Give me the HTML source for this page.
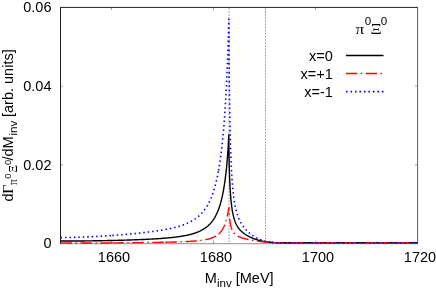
<!DOCTYPE html>
<html><head><meta charset="utf-8"><style>
html,body{margin:0;padding:0;background:#fff;}
body{width:436px;height:293px;overflow:hidden;}
svg{display:block;will-change:transform;}
text{font-family:"Liberation Sans",sans-serif;font-size:14.5px;fill:#000;}
.sy{font-family:"Liberation Serif",serif;}
</style></head><body>
<svg width="436" height="293" viewBox="0 0 436 293">
<rect width="436" height="293" fill="#fff"/>
<!-- vertical threshold lines -->
<g stroke="#555" stroke-width="0.55" stroke-dasharray="1.9 1.2" fill="none">
<line x1="229.06" y1="8" x2="229.06" y2="243"/>
<line x1="265.5" y1="8" x2="265.5" y2="243"/>
</g>
<!-- frame -->
<g stroke="#222" stroke-width="1" fill="none">
<line x1="60" y1="7.4" x2="418" y2="7.4"/>
<line x1="60.5" y1="7.4" x2="60.5" y2="244"/>
<line x1="417.6" y1="7.4" x2="417.6" y2="244" stroke="#444" stroke-width="0.85"/>
<line x1="60" y1="243.7" x2="418" y2="243.7" stroke-width="0.6" stroke="#444"/>
</g>
<!-- curves -->
<g fill="none" stroke-linejoin="round">
<path d="M60.50 241.06 L61.62 241.06 L62.74 241.06 L63.86 241.06 L64.97 241.06 L66.08 241.06 L67.19 241.05 L68.29 241.05 L69.39 241.05 L70.48 241.04 L71.57 241.04 L72.66 241.03 L73.74 241.03 L74.82 241.02 L75.89 241.01 L76.96 241.00 L78.03 241.00 L79.09 240.99 L80.15 240.98 L81.21 240.97 L82.26 240.96 L83.31 240.95 L84.36 240.94 L85.40 240.92 L86.43 240.91 L87.47 240.90 L88.50 240.89 L89.52 240.87 L90.55 240.86 L91.56 240.85 L92.58 240.83 L93.59 240.82 L94.60 240.80 L95.60 240.79 L96.60 240.77 L97.60 240.75 L98.59 240.74 L99.58 240.72 L100.56 240.70 L101.54 240.68 L102.52 240.67 L103.49 240.65 L104.46 240.63 L105.43 240.61 L106.39 240.59 L107.35 240.57 L108.30 240.55 L109.25 240.53 L110.20 240.51 L111.14 240.49 L112.08 240.47 L113.02 240.45 L113.95 240.42 L114.88 240.40 L115.80 240.38 L116.72 240.35 L117.64 240.33 L118.55 240.31 L119.46 240.28 L120.37 240.26 L121.27 240.23 L122.17 240.21 L123.06 240.18 L123.95 240.16 L124.84 240.13 L125.72 240.11 L126.60 240.08 L127.47 240.05 L128.35 240.02 L129.21 240.00 L130.08 239.97 L130.94 239.94 L131.80 239.91 L132.65 239.88 L133.50 239.85 L134.34 239.82 L135.18 239.79 L136.02 239.76 L136.86 239.73 L137.69 239.70 L138.51 239.66 L139.33 239.63 L140.15 239.60 L140.97 239.56 L141.78 239.53 L142.59 239.50 L143.39 239.46 L144.19 239.43 L144.99 239.39 L145.78 239.35 L146.57 239.31 L147.35 239.28 L148.14 239.24 L148.91 239.20 L149.69 239.16 L150.46 239.12 L151.22 239.08 L151.99 239.04 L152.74 238.99 L153.50 238.95 L154.25 238.91 L155.00 238.86 L155.74 238.82 L156.48 238.77 L157.22 238.73 L157.95 238.68 L158.68 238.63 L159.40 238.58 L160.12 238.53 L160.84 238.48 L161.55 238.43 L162.26 238.38 L162.97 238.32 L163.67 238.27 L164.37 238.21 L165.07 238.15 L165.76 238.10 L166.44 238.04 L167.13 237.98 L167.81 237.92 L168.48 237.85 L169.15 237.79 L169.82 237.73 L170.49 237.66 L171.15 237.59 L171.80 237.52 L172.46 237.45 L173.11 237.38 L173.75 237.31 L174.39 237.23 L175.03 237.16 L175.67 237.08 L176.30 237.00 L176.93 236.92 L177.55 236.83 L178.17 236.75 L178.78 236.66 L179.39 236.57 L180.00 236.48 L180.61 236.39 L181.21 236.29 L181.80 236.20 L182.40 236.10 L182.99 236.00 L183.57 235.89 L184.15 235.79 L184.73 235.68 L185.31 235.57 L185.88 235.46 L186.44 235.34 L187.01 235.22 L187.57 235.10 L188.12 234.98 L188.67 234.85 L189.22 234.72 L189.76 234.59 L190.30 234.45 L190.84 234.31 L191.37 234.17 L191.90 234.02 L192.43 233.87 L192.95 233.72 L193.47 233.56 L193.98 233.40 L194.49 233.23 L195.00 233.06 L195.50 232.89 L196.00 232.71 L196.49 232.53 L196.99 232.34 L197.47 232.15 L197.96 231.96 L198.44 231.76 L198.91 231.55 L199.39 231.34 L199.85 231.13 L200.32 230.90 L200.78 230.68 L201.24 230.44 L201.69 230.21 L202.14 229.96 L202.59 229.71 L203.03 229.45 L203.47 229.19 L203.90 228.92 L204.33 228.64 L204.76 228.36 L205.19 228.07 L205.61 227.77 L206.02 227.46 L206.43 227.15 L206.84 226.83 L207.25 226.50 L207.65 226.16 L208.05 225.81 L208.44 225.46 L208.83 225.09 L209.21 224.72 L209.60 224.33 L209.97 223.94 L210.35 223.54 L210.72 223.12 L211.09 222.70 L211.45 222.27 L211.81 221.82 L212.17 221.36 L212.52 220.89 L212.87 220.42 L213.21 219.92 L213.55 219.42 L213.89 218.90 L214.22 218.37 L214.55 217.83 L214.88 217.28 L215.20 216.71 L215.52 216.13 L215.83 215.53 L216.14 214.92 L216.45 214.30 L216.75 213.66 L217.05 213.00 L217.35 212.33 L217.64 211.64 L217.93 210.94 L218.21 210.23 L218.49 209.49 L218.77 208.74 L219.04 207.98 L219.31 207.19 L219.58 206.39 L219.84 205.57 L220.10 204.74 L220.35 203.89 L220.60 203.02 L220.85 202.13 L221.09 201.22 L221.33 200.30 L221.56 199.36 L221.80 198.40 L222.02 197.42 L222.25 196.42 L222.47 195.41 L222.68 194.38 L222.90 193.33 L223.11 192.26 L223.31 191.18 L223.51 190.08 L223.71 188.96 L223.90 187.82 L224.09 186.67 L224.28 185.51 L224.46 184.32 L224.64 183.13 L224.82 181.92 L224.99 180.69 L225.16 179.45 L225.32 178.20 L225.48 176.94 L225.64 175.67 L225.79 174.39 L225.94 173.10 L226.08 171.80 L226.22 170.49 L226.36 169.19 L226.49 167.87 L226.62 166.56 L226.75 165.24 L226.87 163.92 L226.99 162.61 L227.11 161.30 L227.22 159.99 L227.32 158.69 L227.43 157.41 L227.53 156.13 L227.62 154.86 L227.72 153.62 L227.80 152.38 L227.89 151.17 L227.97 149.99 L228.05 148.82 L228.12 147.69 L228.19 146.58 L228.26 145.50 L228.32 144.47 L228.38 143.46 L228.43 142.50 L228.48 141.58 L228.53 140.71 L228.57 139.89 L228.61 139.12 L228.65 138.40 L228.68 137.74 L228.71 137.14 L228.73 136.60 L228.75 136.12 L228.77 135.71 L228.78 135.37 L228.79 135.11 L228.80 134.92 L228.80 134.80 L228.80 135.61 L228.80 136.46 L228.81 137.35 L228.81 138.29 L228.81 139.25 L228.82 140.25 L228.83 141.28 L228.84 142.33 L228.85 143.42 L228.86 144.52 L228.87 145.65 L228.88 146.79 L228.90 147.95 L228.91 149.13 L228.93 150.32 L228.95 151.52 L228.97 152.73 L228.99 153.95 L229.01 155.17 L229.03 156.40 L229.05 157.63 L229.08 158.86 L229.10 160.09 L229.13 161.32 L229.16 162.55 L229.19 163.77 L229.22 164.99 L229.25 166.20 L229.28 167.41 L229.32 168.61 L229.35 169.80 L229.39 170.98 L229.42 172.15 L229.46 173.31 L229.50 174.46 L229.54 175.60 L229.58 176.72 L229.63 177.83 L229.67 178.93 L229.72 180.01 L229.76 181.09 L229.81 182.14 L229.86 183.18 L229.91 184.21 L229.96 185.22 L230.01 186.22 L230.07 187.20 L230.12 188.17 L230.18 189.12 L230.23 190.06 L230.29 190.98 L230.35 191.89 L230.41 192.78 L230.47 193.65 L230.53 194.51 L230.60 195.36 L230.66 196.18 L230.73 197.00 L230.79 197.80 L230.86 198.58 L230.93 199.35 L231.00 200.11 L231.07 200.85 L231.15 201.57 L231.22 202.29 L231.29 202.99 L231.37 203.67 L231.45 204.34 L231.53 205.00 L231.61 205.65 L231.69 206.28 L231.77 206.90 L231.85 207.51 L231.94 208.10 L232.02 208.69 L232.11 209.26 L232.20 209.82 L232.28 210.37 L232.37 210.90 L232.47 211.43 L232.56 211.95 L232.65 212.45 L232.75 212.95 L232.84 213.43 L232.94 213.91 L233.04 214.37 L233.13 214.83 L233.23 215.27 L233.34 215.71 L233.44 216.14 L233.54 216.56 L233.65 216.97 L233.75 217.37 L233.86 217.77 L233.97 218.16 L234.08 218.54 L234.19 218.91 L234.30 219.27 L234.41 219.63 L234.53 219.98 L234.64 220.33 L234.76 220.66 L234.88 220.99 L234.99 221.32 L235.11 221.63 L235.23 221.95 L235.36 222.25 L235.48 222.55 L235.60 222.85 L235.73 223.14 L235.86 223.42 L235.98 223.70 L236.11 223.97 L236.24 224.24 L236.37 224.51 L236.51 224.77 L236.64 225.02 L236.77 225.27 L236.91 225.52 L237.05 225.76 L237.18 226.00 L237.32 226.23 L237.46 226.46 L237.61 226.69 L237.75 226.91 L237.89 227.13 L238.04 227.35 L238.18 227.56 L238.33 227.77 L238.48 227.97 L238.63 228.18 L238.78 228.38 L238.93 228.57 L239.08 228.77 L239.24 228.96 L239.39 229.15 L239.55 229.33 L239.71 229.52 L239.87 229.70 L240.02 229.88 L240.19 230.05 L240.35 230.23 L240.51 230.40 L240.68 230.57 L240.84 230.74 L241.01 230.90 L241.18 231.07 L241.34 231.23 L241.51 231.39 L241.69 231.55 L241.86 231.70 L242.03 231.86 L242.21 232.01 L242.38 232.16 L242.56 232.31 L242.74 232.46 L242.92 232.61 L243.10 232.75 L243.28 232.90 L243.46 233.04 L243.64 233.18 L243.83 233.32 L244.02 233.46 L244.20 233.60 L244.39 233.73 L244.58 233.87 L244.77 234.00 L244.96 234.13 L245.16 234.26 L245.35 234.39 L245.55 234.52 L245.74 234.65 L245.94 234.77 L246.14 234.90 L246.34 235.02 L246.54 235.15 L246.74 235.27 L246.95 235.39 L247.15 235.51 L247.36 235.63 L247.56 235.75 L247.77 235.87 L247.98 235.98 L248.19 236.10 L248.40 236.21 L248.61 236.32 L248.83 236.44 L249.04 236.55 L249.26 236.66 L249.47 236.77 L249.69 236.88 L249.91 236.99 L250.13 237.09 L250.35 237.20 L250.58 237.30 L250.80 237.41 L251.03 237.51 L251.25 237.61 L251.48 237.71 L251.71 237.81 L251.94 237.91 L252.17 238.01 L252.40 238.11 L252.63 238.20 L252.87 238.30 L253.10 238.39 L253.34 238.49 L253.58 238.58 L253.82 238.67 L254.06 238.76 L254.30 238.85 L254.54 238.94 L254.78 239.03 L255.03 239.11 L255.27 239.20 L255.52 239.28 L255.77 239.37 L256.02 239.45 L256.27 239.53 L256.52 239.61 L256.77 239.69 L257.02 239.77 L257.28 239.85 L257.54 239.92 L257.79 240.00 L258.05 240.07 L258.31 240.15 L258.57 240.22 L258.83 240.29 L259.10 240.36 L259.36 240.43 L259.63 240.50 L259.89 240.57 L260.16 240.63 L260.43 240.70 L260.70 240.76 L260.97 240.82 L261.24 240.88 L261.51 240.94 L261.79 241.00 L262.06 241.06 L262.34 241.12 L262.62 241.18 L262.90 241.23 L263.18 241.29 L263.46 241.34 L263.74 241.39 L264.02 241.44 L264.31 241.49 L264.59 241.54 L264.88 241.59 L265.17 241.64 L265.46 241.68 L265.75 241.73 L266.04 241.77 L266.33 241.82 L266.63 241.86 L266.92 241.90 L267.22 241.94 L267.51 241.98 L267.81 242.02 L268.11 242.06 L268.41 242.09 L268.71 242.13 L269.02 242.16 L269.32 242.19 L269.63 242.23 L269.93 242.26 L270.24 242.29 L270.55 242.32 L270.86 242.35 L271.17 242.37 L271.48 242.40 L271.80 242.43 L272.11 242.45 L272.43 242.47 L272.74 242.50 L273.06 242.52 L273.38 242.54 L273.70 242.56 L274.02 242.58 L274.34 242.60 L274.67 242.61 L274.99 242.63 L275.32 242.64 L275.64 242.66 L275.97 242.67 L276.30 242.68 L276.63 242.69 L276.96 242.70 L277.30 242.71 L277.63 242.72 L277.97 242.73 L278.30 242.73 L278.64 242.74 L278.98 242.74 L279.32 242.74 L279.66 242.74 L280.00 242.74 L417.50 242.75" stroke="#000" stroke-width="1.4"/>
<g stroke="#f00" stroke-width="1.4" stroke-dasharray="11.4 3.6 1.4 3.6">
<path d="M60.50 242.83 L61.63 242.85 L62.75 242.87 L63.86 242.88 L64.98 242.90 L66.09 242.91 L67.19 242.93 L68.30 242.94 L69.40 242.95 L70.49 242.96 L71.58 242.97 L72.67 242.98 L73.75 242.98 L74.83 242.99 L75.91 243.00 L76.98 243.00 L78.05 243.01 L79.12 243.01 L80.18 243.01 L81.23 243.02 L82.29 243.02 L83.34 243.02 L84.38 243.02 L85.43 243.02 L86.46 243.02 L87.50 243.02 L88.53 243.02 L89.56 243.02 L90.58 243.02 L91.60 243.02 L92.62 243.01 L93.63 243.01 L94.64 243.01 L95.64 243.00 L96.64 243.00 L97.64 242.99 L98.63 242.99 L99.62 242.99 L100.61 242.98 L101.59 242.97 L102.57 242.97 L103.54 242.96 L104.51 242.96 L105.48 242.95 L106.44 242.94 L107.40 242.94 L108.36 242.93 L109.31 242.92 L110.26 242.92 L111.20 242.91 L112.14 242.90 L112.30 242.90" />
<path d="M112.30 242.90 L113.08 242.89 L114.01 242.88 L114.94 242.88 L115.87 242.87 L116.79 242.86 L117.71 242.85 L118.62 242.84 L119.53 242.83 L120.44 242.82 L121.34 242.81 L122.24 242.80 L123.13 242.80 L124.03 242.79 L124.91 242.78 L125.80 242.77 L126.68 242.76 L127.55 242.75 L128.43 242.74 L129.30 242.73 L130.16 242.72 L131.02 242.71 L131.88 242.70 L132.73 242.69 L133.58 242.68 L134.43 242.67 L135.27 242.66 L136.11 242.65 L136.95 242.64 L137.78 242.63 L138.60 242.62 L139.43 242.61 L140.25 242.60 L141.06 242.58 L141.88 242.57 L142.69 242.56 L143.49 242.55 L144.29 242.54 L145.09 242.53 L145.88 242.52 L146.67 242.51 L147.46 242.50 L148.24 242.49 L149.02 242.48 L149.79 242.47 L150.56 242.46 L151.33 242.44 L152.09 242.43 L152.85 242.42 L153.61 242.41 L154.36 242.40 L155.11 242.39 L155.85 242.38 L156.59 242.36 L157.33 242.35 L158.06 242.34 L158.79 242.33 L159.52 242.32 L160.24 242.30 L160.96 242.29 L161.67 242.28 L162.38 242.27 L163.09 242.25 L163.79 242.24 L164.49 242.23 L165.19 242.21 L165.40 242.21" />
<path d="M165.40 242.21 L165.88 242.20 L166.57 242.19 L167.25 242.17 L167.93 242.16 L168.61 242.14 L169.28 242.13 L169.95 242.11 L170.62 242.10 L171.28 242.08 L171.94 242.07 L172.59 242.05 L173.24 242.04 L173.89 242.02 L174.53 242.00 L175.17 241.98 L175.80 241.97 L176.44 241.95 L177.06 241.93 L177.69 241.91 L178.31 241.89 L178.92 241.87 L179.54 241.85 L180.14 241.83 L180.75 241.81 L181.35 241.79 L181.95 241.77 L182.54 241.74 L183.13 241.72 L183.72 241.70 L184.30 241.67 L184.88 241.65 L185.45 241.62 L186.03 241.59 L186.59 241.57 L187.16 241.54 L187.72 241.51 L188.27 241.48 L188.82 241.45 L189.37 241.42 L189.92 241.39 L190.46 241.35 L191.00 241.32 L191.53 241.29 L192.06 241.25 L192.58 241.21 L193.11 241.18 L193.62 241.14 L194.14 241.10 L194.65 241.06 L195.16 241.01 L195.66 240.97 L196.16 240.93 L196.66 240.88 L197.15 240.83 L197.64 240.78 L198.12 240.73 L198.60 240.68 L199.08 240.63 L199.55 240.58 L200.02 240.52 L200.49 240.46 L200.95 240.40 L201.41 240.34 L201.86 240.28 L202.31 240.21 L202.76 240.15 L203.20 240.08 L203.64 240.00 L204.07 239.93 L204.51 239.86 L204.93 239.78 L205.36 239.70 L205.78 239.62 L206.19 239.53 L206.61 239.44 L207.02 239.35 L207.42 239.26 L207.82 239.16 L208.22 239.07 L208.61 238.96 L209.00 238.86 L209.39 238.75 L209.77 238.64 L210.15 238.53 L210.53 238.41 L210.90 238.29 L211.27 238.16 L211.63 238.03 L211.99 237.90 L212.35 237.76 L212.70 237.62 L213.05 237.47 L213.39 237.32 L213.73 237.17 L214.07 237.01 L214.40 236.85 L214.73 236.68 L215.06 236.50 L215.38 236.33 L215.70 236.14 L216.02 235.95 L216.33 235.76 L216.63 235.56 L216.94 235.35 L217.24 235.14 L217.53 234.92 L217.83 234.69 L218.11 234.46 L218.40 234.22 L218.50 234.13" />
<path d="M218.50 234.13 L218.68 233.98 L218.96 233.73 L219.23 233.47 L219.50 233.20 L219.76 232.93 L220.03 232.65 L220.28 232.36 L220.54 232.06 L220.79 231.76 L221.04 231.45 L221.28 231.13 L221.52 230.80 L221.75 230.47 L221.99 230.12 L222.21 229.77 L222.44 229.41 L222.66 229.04 L222.88 228.67 L223.09 228.28 L223.30 227.89 L223.50 227.49 L223.71 227.08 L223.90 226.66 L224.10 226.24 L224.29 225.80 L224.47 225.36 L224.66 224.91 L224.84 224.46 L225.01 223.99 L225.18 223.52 L225.35 223.05 L225.52 222.56 L225.68 222.07 L225.83 221.58 L225.98 221.08 L226.13 220.58 L226.28 220.07 L226.42 219.56 L226.56 219.05 L226.69 218.54 L226.82 218.02 L226.95 217.51 L227.07 216.99 L227.19 216.48 L227.30 215.97 L227.41 215.46 L227.52 214.96 L227.63 214.46 L227.73 213.97 L227.82 213.49 L227.91 213.02 L228.00 212.56 L228.09 212.11 L228.17 211.67 L228.25 211.25 L228.32 210.85 L228.39 210.46 L228.46 210.09 L228.52 209.74 L228.58 209.42 L228.63 209.12 L228.68 208.84 L228.73 208.60 L228.77 208.38 L228.81 208.18 L228.85 208.03 L228.88 207.90 L228.91 207.81 L228.93 207.75 L228.95 207.73 L228.97 207.74 L228.98 207.80 L228.99 207.89 L229.00 208.03 L229.00 208.20 L229.00 208.34 L229.00 208.50 L229.01 208.67 L229.01 208.86 L229.01 209.07 L229.02 209.29 L229.03 209.52 L229.04 209.76 L229.05 210.02 L229.06 210.29 L229.07 210.57 L229.08 210.86 L229.10 211.16 L229.11 211.47 L229.13 211.78 L229.15 212.11 L229.16 212.44 L229.18 212.77 L229.21 213.11 L229.23 213.45 L229.25 213.80 L229.28 214.15 L229.30 214.51 L229.33 214.87 L229.36 215.23 L229.39 215.59 L229.42 215.95 L229.45 216.31 L229.48 216.67 L229.51 217.04 L229.55 217.40 L229.58 217.76 L229.62 218.12 L229.66 218.48 L229.70 218.83 L229.74 219.19 L229.78 219.54 L229.82 219.89 L229.87 220.24 L229.91 220.58 L229.96 220.92 L230.01 221.26 L230.05 221.59 L230.10 221.93 L230.16 222.25 L230.21 222.58 L230.26 222.89 L230.31 223.21 L230.37 223.52 L230.43 223.83 L230.48 224.13 L230.54 224.43 L230.60 224.72 L230.66 225.01 L230.73 225.30 L230.79 225.58 L230.85 225.85 L230.92 226.12 L230.99 226.39 L231.05 226.65 L231.12 226.91 L231.19 227.17 L231.26 227.42 L231.34 227.66 L231.41 227.90 L231.48 228.14 L231.56 228.37 L231.64 228.60 L231.72 228.82 L231.80 229.04 L231.88 229.26 L231.96 229.47 L232.04 229.67 L232.12 229.88 L232.21 230.08 L232.29 230.27 L232.38 230.46 L232.47 230.65 L232.56 230.84 L232.65 231.02 L232.74 231.19 L232.84 231.37 L232.93 231.54 L233.03 231.70 L233.12 231.87 L233.22 232.03 L233.32 232.18 L233.42 232.34 L233.52 232.49 L233.62 232.63 L233.72 232.78 L233.83 232.92 L233.93 233.06 L234.04 233.19 L234.15 233.33 L234.26 233.46 L234.37 233.59 L234.48 233.71 L234.59 233.83 L234.70 233.95 L234.82 234.07 L234.94 234.19 L235.05 234.30 L235.17 234.41 L235.29 234.52 L235.41 234.63 L235.53 234.73 L235.65 234.83 L235.78 234.93 L235.90 235.03 L236.03 235.13 L236.16 235.22 L236.28 235.32 L236.41 235.41 L236.54 235.50 L236.68 235.59 L236.81 235.67 L236.94 235.76 L237.08 235.84 L237.21 235.92 L237.35 236.00 L237.49 236.08 L237.63 236.16 L237.77 236.24 L237.91 236.31 L238.06 236.39 L238.20 236.46 L238.35 236.53 L238.49 236.60 L238.64 236.67 L238.79 236.74 L238.94 236.80 L239.09 236.87 L239.24 236.93 L239.40 237.00 L239.55 237.06 L239.71 237.12 L239.86 237.19 L240.02 237.25 L240.18 237.31 L240.34 237.37 L240.50 237.42 L240.67 237.48 L240.83 237.54 L240.99 237.60 L241.16 237.65 L241.33 237.71 L241.50 237.76 L241.66 237.81 L241.84 237.87 L242.01 237.92 L242.18 237.97 L242.35 238.02 L242.53 238.08 L242.71 238.13 L242.88 238.18 L243.06 238.23 L243.24 238.28 L243.42 238.33 L243.60 238.38 L243.79 238.42 L243.97 238.47 L244.16 238.52 L244.34 238.57 L244.53 238.62 L244.72 238.66 L244.91 238.71 L245.10 238.76 L245.29 238.80 L245.49 238.85 L245.68 238.90 L245.88 238.94 L246.07 238.99 L246.27 239.03 L246.47 239.08 L246.67 239.12 L246.87 239.17 L247.07 239.21 L247.28 239.26 L247.48 239.30 L247.69 239.35 L247.90 239.39 L248.10 239.44 L248.31 239.48 L248.52 239.52 L248.74 239.57 L248.95 239.61 L249.16 239.66 L249.38 239.70 L249.59 239.74 L249.81 239.79 L250.03 239.83 L250.25 239.87 L250.47 239.92 L250.69 239.96 L250.91 240.00 L251.14 240.04 L251.36 240.09 L251.59 240.13 L251.82 240.17 L252.05 240.21 L252.28 240.26 L252.51 240.30 L252.74 240.34 L252.97 240.38 L253.21 240.42 L253.44 240.46 L253.68 240.51 L253.92 240.55 L254.16 240.59 L254.40 240.63 L254.64 240.67 L254.88 240.71 L255.12 240.75 L255.37 240.79 L255.62 240.83 L255.86 240.87 L256.11 240.91 L256.36 240.95 L256.61 240.99 L256.86 241.03 L257.11 241.07 L257.37 241.10 L257.62 241.14 L257.88 241.18 L258.14 241.22 L258.40 241.25 L258.65 241.29 L258.92 241.33 L259.18 241.36 L259.44 241.40 L259.70 241.44 L259.97 241.47 L260.24 241.51 L260.50 241.54 L260.77 241.58 L261.04 241.61 L261.31 241.64 L261.59 241.68 L261.86 241.71 L262.13 241.74 L262.41 241.77 L262.69 241.80 L262.96 241.84 L263.24 241.87 L263.52 241.90 L263.80 241.93 L264.09 241.95 L264.37 241.98 L264.65 242.01 L264.94 242.04 L265.23 242.07 L265.51 242.09 L265.80 242.12 L266.09 242.15 L266.39 242.17 L266.68 242.20 L266.97 242.22 L267.27 242.24 L267.56 242.27 L267.86 242.29 L268.16 242.31 L268.46 242.33 L268.76 242.36 L269.06 242.38 L269.36 242.40 L269.67 242.42 L269.97 242.43 L270.28 242.45 L270.59 242.47 L270.90 242.49 L271.21 242.50 L271.52 242.52 L271.60 242.52" />
<path d="M271.60 242.52 L271.83 242.53 L272.14 242.55 L272.46 242.56 L272.77 242.57 L273.09 242.59 L273.41 242.60 L273.72 242.61 L274.04 242.62 L274.37 242.63 L274.69 242.64 L275.01 242.64 L275.34 242.65 L275.66 242.66 L275.99 242.66 L276.32 242.67 L276.65 242.67 L276.98 242.67 L277.31 242.67 L277.64 242.67 L277.97 242.67 L278.31 242.67 L278.64 242.67 L278.98 242.67 L279.32 242.66 L279.66 242.66 L280.00 242.65 L324.70 242.68" />
<path d="M324.70 242.68 L377.80 242.72" />
<path d="M377.80 242.72 L417.50 242.75" />
</g>
<g stroke="#00f" stroke-width="1.6" stroke-dasharray="1.5 2.95">
<path d="M60.50 237.63 L61.62 237.61 L62.75 237.60 L63.86 237.59 L64.98 237.57 L66.09 237.55 L67.19 237.53 L68.29 237.51 L69.39 237.49 L70.49 237.46 L71.58 237.44 L72.66 237.41 L73.75 237.38 L74.83 237.35 L75.90 237.32 L76.97 237.28 L78.04 237.25 L79.10 237.21 L80.17 237.18 L81.22 237.14 L82.27 237.10 L83.32 237.06 L84.37 237.01 L85.41 236.97 L86.45 236.93 L87.48 236.88 L88.51 236.83 L89.54 236.79 L90.56 236.74 L91.58 236.69 L92.60 236.64 L93.61 236.59 L94.62 236.54 L95.62 236.48 L96.62 236.43 L97.62 236.37 L98.61 236.32 L99.60 236.26 L100.58 236.20 L101.57 236.14 L102.54 236.09 L103.52 236.03 L104.49 235.96 L105.45 235.90 L106.42 235.84 L107.37 235.78 L108.33 235.71 L109.28 235.65 L110.23 235.58 L111.17 235.52 L112.11 235.45 L112.30 235.44" />
<path d="M112.30 235.44 L113.05 235.39 L113.98 235.32 L114.91 235.25 L115.83 235.18 L116.76 235.11 L117.67 235.04 L118.59 234.97 L119.50 234.90 L120.40 234.83 L121.30 234.75 L122.20 234.68 L123.10 234.60 L123.99 234.53 L124.88 234.46 L125.76 234.38 L126.64 234.30 L127.51 234.23 L128.39 234.15 L129.26 234.07 L130.12 233.99 L130.98 233.91 L131.84 233.83 L132.69 233.75 L133.54 233.67 L134.39 233.59 L135.23 233.50 L136.07 233.42 L136.90 233.34 L137.73 233.25 L138.56 233.17 L139.38 233.08 L140.20 233.00 L141.02 232.91 L141.83 232.82 L142.64 232.73 L143.44 232.64 L144.24 232.55 L145.04 232.46 L145.83 232.37 L146.62 232.27 L147.41 232.18 L148.19 232.08 L148.97 231.99 L149.74 231.89 L150.51 231.79 L151.28 231.69 L152.04 231.59 L152.80 231.49 L153.55 231.39 L154.31 231.29 L155.05 231.18 L155.80 231.08 L156.54 230.97 L157.27 230.86 L158.01 230.75 L158.74 230.64 L159.46 230.53 L160.18 230.41 L160.90 230.30 L161.61 230.18 L162.32 230.06 L163.03 229.94 L163.73 229.82 L164.43 229.69 L165.13 229.57 L165.40 229.52" />
<path d="M165.40 229.52 L165.82 229.44 L166.51 229.31 L167.19 229.18 L167.87 229.04 L168.55 228.91 L169.22 228.77 L169.89 228.63 L170.55 228.49 L171.21 228.34 L171.87 228.19 L172.52 228.04 L173.17 227.89 L173.82 227.73 L174.46 227.57 L175.10 227.41 L175.74 227.24 L176.37 227.07 L176.99 226.90 L177.62 226.73 L178.24 226.55 L178.85 226.37 L179.47 226.18 L180.07 225.99 L180.68 225.80 L181.28 225.60 L181.88 225.40 L182.47 225.19 L183.06 224.98 L183.65 224.77 L184.23 224.55 L184.81 224.33 L185.38 224.10 L185.95 223.86 L186.52 223.62 L187.08 223.38 L187.64 223.13 L188.20 222.87 L188.75 222.61 L189.30 222.34 L189.84 222.07 L190.38 221.79 L190.92 221.50 L191.45 221.21 L191.98 220.91 L192.51 220.60 L193.03 220.29 L193.55 219.97 L194.06 219.64 L194.57 219.30 L195.08 218.95 L195.58 218.60 L196.08 218.23 L196.57 217.86 L197.07 217.48 L197.55 217.09 L198.04 216.69 L198.52 216.28 L199.00 215.86 L199.47 215.43 L199.94 214.99 L200.40 214.53 L200.86 214.07 L201.32 213.59 L201.78 213.11 L202.23 212.60 L202.67 212.09 L203.11 211.57 L203.55 211.03 L203.99 210.47 L204.42 209.90 L204.85 209.32 L205.27 208.72 L205.69 208.11 L206.11 207.48 L206.52 206.84 L206.93 206.18 L207.33 205.50 L207.74 204.80 L208.13 204.09 L208.53 203.35 L208.92 202.60 L209.30 201.83 L209.68 201.04 L210.06 200.23 L210.44 199.40 L210.81 198.54 L211.18 197.67 L211.54 196.77 L211.90 195.85 L212.26 194.91 L212.61 193.94 L212.96 192.94 L213.30 191.92 L213.64 190.88 L213.98 189.81 L214.31 188.71 L214.64 187.59 L214.97 186.43 L215.29 185.25 L215.61 184.04 L215.92 182.80 L216.23 181.52 L216.54 180.22 L216.84 178.89 L217.14 177.52 L217.44 176.12 L217.73 174.69 L218.02 173.22 L218.30 171.72 L218.50 170.65" />
<path d="M218.50 170.65 L218.59 170.18 L218.86 168.61 L219.14 167.00 L219.40 165.36 L219.67 163.68 L219.93 161.96 L220.19 160.21 L220.44 158.41 L220.69 156.58 L220.94 154.71 L221.18 152.81 L221.42 150.86 L221.66 148.87 L221.89 146.85 L222.12 144.79 L222.34 142.68 L222.56 140.54 L222.78 138.36 L222.99 136.15 L223.20 133.89 L223.41 131.60 L223.61 129.27 L223.81 126.90 L224.00 124.50 L224.19 122.07 L224.38 119.60 L224.56 117.10 L224.74 114.56 L224.91 112.00 L225.09 109.41 L225.25 106.79 L225.42 104.15 L225.58 101.48 L225.73 98.80 L225.89 96.09 L226.03 93.37 L226.18 90.63 L226.32 87.89 L226.46 85.13 L226.59 82.37 L226.72 79.61 L226.85 76.86 L226.97 74.10 L227.09 71.36 L227.20 68.63 L227.32 65.92 L227.42 63.23 L227.53 60.57 L227.63 57.94 L227.72 55.35 L227.82 52.80 L227.90 50.29 L227.99 47.84 L228.07 45.45 L228.15 43.12 L228.22 40.86 L228.29 38.68 L228.36 36.59 L228.42 34.57 L228.48 32.66 L228.53 30.85 L228.58 29.14 L228.63 27.55 L228.67 26.07 L228.71 24.73 L228.75 23.51 L228.78 22.44 L228.81 21.51 L228.83 20.73 L228.85 20.10 L228.87 19.64 L228.88 19.34 L228.89 19.22 L228.90 19.27 L228.90 19.50 L228.90 20.83 L228.90 22.29 L228.91 23.88 L228.91 25.58 L228.91 27.40 L228.92 29.32 L228.93 31.34 L228.94 33.46 L228.95 35.65 L228.96 37.93 L228.97 40.27 L228.98 42.68 L229.00 45.15 L229.01 47.68 L229.03 50.25 L229.05 52.86 L229.07 55.51 L229.09 58.19 L229.11 60.90 L229.13 63.62 L229.15 66.37 L229.18 69.13 L229.20 71.89 L229.23 74.66 L229.26 77.43 L229.29 80.20 L229.32 82.96 L229.35 85.71 L229.38 88.45 L229.41 91.18 L229.45 93.88 L229.49 96.57 L229.52 99.23 L229.56 101.87 L229.60 104.49 L229.64 107.07 L229.68 109.63 L229.73 112.15 L229.77 114.65 L229.81 117.11 L229.86 119.53 L229.91 121.92 L229.96 124.28 L230.01 126.60 L230.06 128.88 L230.11 131.12 L230.16 133.33 L230.22 135.50 L230.27 137.63 L230.33 139.72 L230.39 141.77 L230.45 143.78 L230.51 145.76 L230.57 147.69 L230.63 149.59 L230.69 151.45 L230.76 153.28 L230.82 155.06 L230.89 156.81 L230.96 158.52 L231.03 160.19 L231.10 161.83 L231.17 163.44 L231.24 165.00 L231.31 166.54 L231.39 168.04 L231.47 169.51 L231.54 170.94 L231.62 172.34 L231.70 173.71 L231.78 175.05 L231.86 176.36 L231.95 177.64 L232.03 178.88 L232.12 180.10 L232.20 181.30 L232.29 182.46 L232.38 183.60 L232.47 184.71 L232.56 185.79 L232.65 186.85 L232.74 187.89 L232.84 188.90 L232.93 189.89 L233.03 190.85 L233.13 191.79 L233.23 192.71 L233.33 193.61 L233.43 194.49 L233.53 195.35 L233.63 196.18 L233.74 197.00 L233.84 197.80 L233.95 198.58 L234.06 199.35 L234.17 200.09 L234.28 200.82 L234.39 201.53 L234.50 202.23 L234.62 202.91 L234.73 203.58 L234.85 204.23 L234.96 204.86 L235.08 205.48 L235.20 206.09 L235.32 206.69 L235.44 207.27 L235.57 207.84 L235.69 208.40 L235.82 208.95 L235.94 209.48 L236.07 210.00 L236.20 210.52 L236.33 211.02 L236.46 211.51 L236.59 211.99 L236.72 212.47 L236.86 212.93 L236.99 213.38 L237.13 213.83 L237.27 214.27 L237.41 214.70 L237.55 215.12 L237.69 215.53 L237.83 215.93 L237.97 216.33 L238.12 216.72 L238.26 217.11 L238.41 217.48 L238.56 217.86 L238.71 218.22 L238.86 218.58 L239.01 218.93 L239.16 219.28 L239.32 219.62 L239.47 219.96 L239.63 220.29 L239.79 220.61 L239.94 220.93 L240.10 221.25 L240.26 221.56 L240.43 221.87 L240.59 222.17 L240.75 222.47 L240.92 222.76 L241.08 223.05 L241.25 223.34 L241.42 223.62 L241.59 223.90 L241.76 224.18 L241.93 224.45 L242.11 224.72 L242.28 224.98 L242.46 225.25 L242.63 225.51 L242.81 225.76 L242.99 226.02 L243.17 226.27 L243.35 226.52 L243.53 226.76 L243.72 227.01 L243.90 227.25 L244.09 227.49 L244.27 227.72 L244.46 227.96 L244.65 228.19 L244.84 228.42 L245.03 228.64 L245.22 228.87 L245.42 229.09 L245.61 229.31 L245.81 229.53 L246.01 229.75 L246.21 229.96 L246.40 230.17 L246.61 230.38 L246.81 230.59 L247.01 230.80 L247.21 231.01 L247.42 231.21 L247.63 231.41 L247.83 231.61 L248.04 231.81 L248.25 232.01 L248.46 232.20 L248.67 232.39 L248.89 232.58 L249.10 232.77 L249.32 232.96 L249.53 233.15 L249.75 233.33 L249.97 233.51 L250.19 233.69 L250.41 233.87 L250.63 234.05 L250.86 234.23 L251.08 234.40 L251.31 234.57 L251.54 234.74 L251.76 234.91 L251.99 235.08 L252.22 235.24 L252.45 235.40 L252.69 235.57 L252.92 235.73 L253.16 235.88 L253.39 236.04 L253.63 236.19 L253.87 236.35 L254.11 236.50 L254.35 236.65 L254.59 236.79 L254.83 236.94 L255.08 237.08 L255.32 237.22 L255.57 237.36 L255.82 237.50 L256.06 237.63 L256.31 237.77 L256.56 237.90 L256.82 238.03 L257.07 238.16 L257.32 238.28 L257.58 238.41 L257.84 238.53 L258.09 238.65 L258.35 238.77 L258.61 238.89 L258.87 239.00 L259.14 239.11 L259.40 239.22 L259.66 239.33 L259.93 239.44 L260.20 239.54 L260.47 239.65 L260.73 239.75 L261.01 239.85 L261.28 239.94 L261.55 240.04 L261.82 240.13 L262.10 240.23 L262.37 240.32 L262.65 240.40 L262.93 240.49 L263.21 240.57 L263.49 240.66 L263.77 240.74 L264.05 240.82 L264.34 240.89 L264.62 240.97 L264.91 241.04 L265.20 241.12 L265.49 241.19 L265.78 241.26 L266.07 241.32 L266.36 241.39 L266.65 241.45 L266.95 241.51 L267.24 241.57 L267.54 241.63 L267.84 241.69 L268.14 241.75 L268.44 241.80 L268.74 241.85 L269.04 241.91 L269.34 241.96 L269.65 242.00 L269.95 242.05 L270.26 242.10 L270.57 242.14 L270.88 242.18 L271.19 242.22 L271.50 242.26 L271.60 242.28" />
<path d="M271.60 242.28 L271.81 242.30 L272.13 242.34 L272.44 242.37 L272.76 242.41 L273.07 242.44 L273.39 242.47 L273.71 242.50 L274.03 242.53 L274.35 242.56 L274.68 242.59 L275.00 242.61 L275.33 242.64 L275.65 242.66 L275.98 242.68 L276.31 242.70 L276.64 242.72 L276.97 242.74 L277.30 242.75 L277.64 242.77 L277.97 242.78 L278.31 242.79 L278.64 242.81 L278.98 242.82 L279.32 242.82 L279.66 242.83 L280.00 242.84 L324.70 242.81" />
<path d="M324.70 242.81 L377.80 242.78" />
<path d="M377.80 242.78 L417.50 242.75" />
</g>
</g>
<!-- ticks -->
<g stroke="#444" stroke-width="0.5">
<line x1="111.5" y1="243.5" x2="111.5" y2="240.6"/><line x1="213.5" y1="243.5" x2="213.5" y2="240.6"/><line x1="315.5" y1="243.5" x2="315.5" y2="240.6"/>
<line x1="111.5" y1="7.5" x2="111.5" y2="10.2"/><line x1="213.5" y1="7.5" x2="213.5" y2="10.2"/><line x1="315.5" y1="7.5" x2="315.5" y2="10.2"/>
<line x1="60.5" y1="164.83" x2="63" y2="164.83"/><line x1="60.5" y1="86.17" x2="63" y2="86.17"/>
<line x1="417.5" y1="164.83" x2="415" y2="164.83"/><line x1="417.5" y1="86.17" x2="415" y2="86.17"/>
</g>
<!-- y tick labels -->
<g text-anchor="end">
<text x="51.5" y="12.2">0.06</text>
<text x="51.5" y="91">0.04</text>
<text x="51.5" y="169.8">0.02</text>
<text x="51.5" y="248">0</text>
</g>
<g text-anchor="middle">
<text x="114.0" y="262">1660</text>
<text x="216.0" y="262">1680</text>
<text x="318.0" y="262">1700</text>
<text x="420.0" y="262">1720</text>
</g>
<!-- x label -->
<text x="204.8" y="283.2">M<tspan style="font-size:11.6px" dy="3.6">inv</tspan><tspan dy="-3.6"> [MeV]</tspan></text>
<!-- y label -->
<g transform="translate(13.3,201.4) rotate(-90)">
<text x="0" y="0">d</text>
<text transform="translate(7.3,0) scale(1.13,1)" class="sy">Γ</text>
<text x="16.5" y="3.8" class="sy" style="font-size:11.6px">π</text>
<text x="22.7" y="-2.0" style="font-size:9.3px">0</text>
<text x="28.8" y="3.8" class="sy" style="font-size:11.6px">Ξ</text>
<text x="36.4" y="-2.0" style="font-size:9.3px">0</text>
<text x="40.9" y="0">/dM</text>
<text x="65.8" y="3.8" style="font-size:11.6px">inv</text>
<text x="84.4" y="0">[arb. units]</text>
</g>
<!-- legend -->
<text transform="translate(355.4,33.5) scale(1.2,1)" class="sy">π</text>
<text x="364.7" y="25.4" style="font-size:11.6px">0</text>
<text transform="translate(370.4,33.5) scale(1.2,1)" class="sy">Ξ</text>
<text x="380.7" y="25.4" style="font-size:11.6px">0</text>
<g text-anchor="end">
<text x="332.8" y="60.5">x=0</text>
<text x="332.8" y="78.5">x=+1</text>
<text x="332.8" y="96.5">x=-1</text>
</g>
<g fill="none">
<line x1="345.9" y1="55.6" x2="383.5" y2="55.6" stroke="#000" stroke-width="1.5"/>
<line x1="345.9" y1="73.6" x2="383.5" y2="73.6" stroke="#f00" stroke-width="1.5" stroke-dasharray="11.2 3.6 1.5 3.6"/>
<line x1="346" y1="91.6" x2="383.5" y2="91.6" stroke="#00f" stroke-width="1.7" stroke-dasharray="1.6 2.88"/>
</g>
</svg>
</body></html>
